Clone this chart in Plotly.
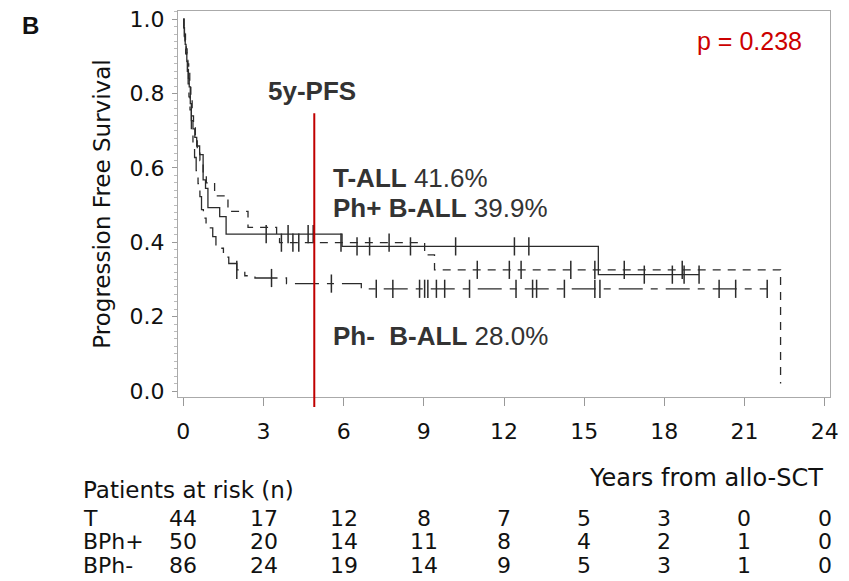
import numpy as np
import plotly.graph_objects as go

# ---------------- data ----------------
x_ticks = [0, 3, 6, 9, 12, 15, 18, 21, 24]
y_ticks = [0.0, 0.2, 0.4, 0.6, 0.8, 1.0]

# T-ALL (solid)
T_time = [0, 0.02, 0.04, 0.07, 0.10, 0.13, 0.16, 0.19, 0.22, 0.26, 0.30, 0.36, 0.43, 0.50,
          0.61, 0.74, 0.83, 0.92, 1.36, 1.60, 5.94, 15.53]
T_surv = [1.0, 0.977, 0.955, 0.932, 0.909, 0.886, 0.864, 0.841, 0.818, 0.773, 0.727, 0.705,
          0.682, 0.659, 0.636, 0.568, 0.545, 0.493, 0.469, 0.422, 0.389, 0.313]
T_end = 19.3
T_cens = [3.1, 3.92, 4.67, 4.86, 6.5, 6.97, 8.5, 10.19, 12.39, 12.93, 17.25, 18.3, 18.74, 19.3]

# Ph+ B-ALL (short dash)
Pp_time = [0, 0.02, 0.05, 0.08, 0.11, 0.14, 0.17, 0.20, 0.24, 0.28, 0.33, 0.38, 0.45, 0.52,
           0.62, 0.74, 0.86, 1.17, 1.67, 2.42, 3.49, 3.60, 9.03, 9.40, 22.35]
Pp_surv = [1.0, 0.98, 0.96, 0.94, 0.92, 0.90, 0.88, 0.86, 0.82, 0.78, 0.74, 0.72, 0.68, 0.64,
           0.62, 0.58, 0.56, 0.525, 0.483, 0.44, 0.41, 0.399, 0.366, 0.326, 0.02]
Pp_end = 22.35
Pp_cens = [3.67, 4.1, 4.32, 5.9, 7.7, 11.0, 12.2, 12.64, 14.5, 15.4, 16.5, 18.67]

# Ph- B-ALL (long dash - short dash)
Pm_time = [0, 0.02, 0.04, 0.06, 0.09, 0.12, 0.15, 0.18, 0.21, 0.25, 0.30, 0.36, 0.42, 0.48,
           0.55, 0.62, 0.68, 0.75, 0.85, 1.10, 1.22, 1.50, 1.70, 2.00, 2.30, 2.68, 3.86, 6.66]
Pm_surv = [1.0, 0.977, 0.953, 0.93, 0.907, 0.884, 0.86, 0.826, 0.791, 0.756, 0.70, 0.663,
           0.628, 0.593, 0.558, 0.523, 0.488, 0.465, 0.439, 0.415, 0.384, 0.36, 0.343, 0.326,
           0.31, 0.304, 0.289, 0.275]
Pm_end = 21.85
Pm_cens = [2.0, 3.3, 5.54, 7.22, 7.84, 8.84, 9.03, 9.15, 9.47, 9.78, 10.71, 12.45, 13.07,
           13.22, 14.26, 15.4, 15.59, 20.05, 20.67, 21.85]

risk_labels = ["T", "BPh+", "BPh-"]
risk_T = [44, 17, 12, 8, 7, 5, 3, 0, 0]
risk_Pp = [50, 20, 14, 11, 8, 4, 2, 1, 0]
risk_Pm = [86, 24, 19, 14, 9, 5, 3, 1, 0]

pfs5_labels = ["<b>T-ALL</b> 41.6%", "<b>Ph+ B-ALL</b> 39.9%", "<b>Ph-&nbsp; B-ALL</b> 28.0%"]
p_value_text = "p = 0.238"
landmark_year = 4.9

# ---------------- layout geometry ----------------
W, H = 849, 581
L, R, T, B = 178, 830, 11, 397
X_RANGE = [-0.2, 24.2]
Y_RANGE = [-0.016, 1.022]


def px2x(px):
    return (px - L) / (R - L)


def py2y(py):
    return (B - py) / (B - T)


def data_y_to_paper(v):
    return (v - Y_RANGE[0]) / (Y_RANGE[1] - Y_RANGE[0])


def step_xy(times, surv, end):
    return list(times) + [end], list(surv) + [surv[-1]]


def surv_at(times, surv, ts):
    idx = np.searchsorted(np.array(times), np.array(ts), side="right") - 1
    return list(np.array(surv)[idx])


LINE_COL = "#2b2b2b"
series = [
    ("T-ALL", T_time, T_surv, T_end, T_cens, "solid"),
    ("Ph+ B-ALL", Pp_time, Pp_surv, Pp_end, Pp_cens, "8px,7px"),
    ("Ph- B-ALL", Pm_time, Pm_surv, Pm_end, Pm_cens, "24px,8px,7px,8px"),
]

fig = go.Figure()
for name, tt, ss, end, cens, dash in series:
    x, y = step_xy(tt, ss, end)
    fig.add_trace(go.Scatter(x=x, y=y, mode="lines", line=dict(shape="hv", color=LINE_COL,
                                                               width=1.3, dash=dash),
                             name=name, showlegend=False, hoverinfo="skip"))
    fig.add_trace(go.Scatter(x=cens, y=surv_at(tt, ss, cens), mode="markers",
                             marker=dict(symbol="line-ns", size=13,
                                         line=dict(color=LINE_COL, width=1.5)),
                             showlegend=False, hoverinfo="skip"))

# red landmark line at 5 years
fig.add_shape(type="line", xref="x", yref="paper", x0=landmark_year, x1=landmark_year,
              y0=py2y(407), y1=data_y_to_paper(0.747),
              line=dict(color="#c00000", width=2))

ann = []
SANS = "DejaVu Sans"
ARIAL = "Liberation Sans, Arial"


def text_at(txt, px, py, size, family, color="#111", xanchor="center", xref="paper", xval=None):
    return dict(text=txt, x=(px2x(px) if xval is None else xval), y=py2y(py), xref=xref,
                yref="paper", xanchor=xanchor, yanchor="middle", showarrow=False,
                font=dict(family=family, size=size, color=color))


ann.append(text_at("<b>B</b>", 30, 25, 24, ARIAL))
ann.append(text_at("<b>5y-PFS</b>", 312, 91, 26, ARIAL, "#333"))
for txt, cy in zip(pfs5_labels, [178, 208, 336]):
    ann.append(text_at(txt, 331, cy, 26, ARIAL, "#333", xanchor="left"))
ann.append(text_at(p_value_text, 695, 41, 25, ARIAL, "#cc0000", xanchor="left"))
ann.append(text_at("Years from allo-SCT", 706, 478, 24, SANS))
ann.append(text_at("Patients at risk (n)", 81, 490, 23, SANS, xanchor="left"))
for lab, row, cy in zip(risk_labels, [risk_T, risk_Pp, risk_Pm], [518, 541.5, 565]):
    ann.append(text_at(lab, 81, cy, 22, SANS, xanchor="left"))
    for xv, n in zip(x_ticks, row):
        ann.append(text_at(str(n), 0, cy, 22, SANS, xref="x", xval=xv))

fig.update_layout(
    width=W, height=H,
    margin=dict(l=L, r=W - R, t=T, b=H - B),
    paper_bgcolor="white", plot_bgcolor="white",
    annotations=ann,
    yaxis_title=dict(text="Progression Free Survival", font=dict(family=SANS, size=23, color="#111"),
                     standoff=12),
)
fig.update_xaxes(range=X_RANGE, tickvals=x_ticks, ticks="outside", ticklen=8, tickcolor="#999",
                 showgrid=False, zeroline=False, showline=True, mirror=True, linecolor="#aaa",
                 linewidth=1, tickfont=dict(family=SANS, size=22, color="#111"),
                 ticklabelstandoff=7, automargin=False)
fig.update_yaxes(range=Y_RANGE, tickvals=y_ticks, tickformat=".1f", ticks="outside", ticklen=5,
                 tickcolor="#999", showgrid=False, zeroline=False, showline=True, mirror=True,
                 linecolor="#aaa", linewidth=1, tickfont=dict(family=SANS, size=22, color="#111"),
                 ticklabelstandoff=3, automargin=False,
                 minor=dict(dtick=0.02, ticks="outside", ticklen=3, tickcolor="#bbb"))

fig.write_html("out.html")
